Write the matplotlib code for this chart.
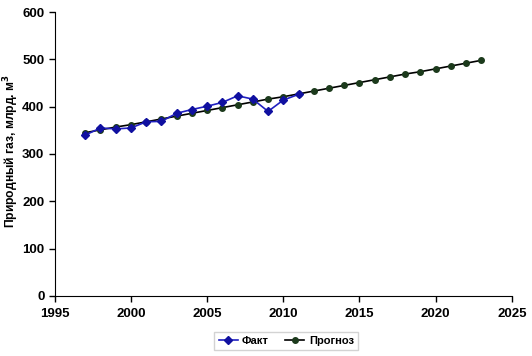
import matplotlib
matplotlib.use('Agg')
import matplotlib.pyplot as plt

# данные
fact_years = [1997, 1998, 1999, 2000, 2001, 2002, 2003, 2004, 2005, 2006, 2007, 2008, 2009, 2010, 2011]
fact_vals = [340, 355, 353, 355, 368, 369, 386, 394, 401, 409, 423, 416, 390, 414, 426]

prog_years = list(range(1997, 2024))
prog_vals = [345, 351, 357, 362, 368, 374, 380, 386, 392, 398, 404, 410, 416, 421, 427,
             433, 439, 445, 451, 457, 463, 469, 474, 480, 486, 492, 498]

x_ticks = [1995, 2000, 2005, 2010, 2015, 2020, 2025]
y_ticks = [0, 100, 200, 300, 400, 500, 600]

plt.rcParams['font.family'] = ['Liberation Sans', 'DejaVu Sans']
plt.rcParams['font.weight'] = 'bold'

fig = plt.figure(figsize=(5.32, 3.56), dpi=100)
ax = fig.add_axes([0.103, 0.169, 0.859, 0.797])

ax.plot(fact_years, fact_vals, color='#2020c0', lw=1.2, marker='D', ms=4.5,
        mfc='#1010a0', mec='#1010a0', label='Факт', zorder=3)
ax.plot(prog_years, prog_vals, color='black', lw=1.2, marker='o', ms=4,
        mfc='#1c3a1c', mec='#1c3a1c', label='Прогноз', zorder=2)

ax.set_xlim(1995, 2025)
ax.set_ylim(0, 600)
ax.set_xticks(x_ticks)
ax.set_yticks(y_ticks)
ax.tick_params(axis='both', labelsize=9.5, direction='out', length=4, width=1)
ax.tick_params(axis='x', pad=5)
for lbl in ax.get_xticklabels() + ax.get_yticklabels():
    lbl.set_fontweight('bold')
ax.spines['top'].set_visible(False)
ax.spines['right'].set_visible(False)
ax.set_ylabel('Природный газ, млрд. м$^3$', fontsize=8.7, fontweight='bold')
ax.yaxis.set_label_coords(-0.075, 0.51)

leg = fig.legend(loc='center', bbox_to_anchor=(0.538, 0.042), ncol=2, fontsize=8,
                 frameon=True, fancybox=False, edgecolor='#c8c8c8',
                 handlelength=1.7, handletextpad=0.4, columnspacing=1.5, borderpad=0.4)
for t in leg.get_texts():
    t.set_fontweight('bold')

plt.savefig('out.png', dpi=100)
plt.close()
